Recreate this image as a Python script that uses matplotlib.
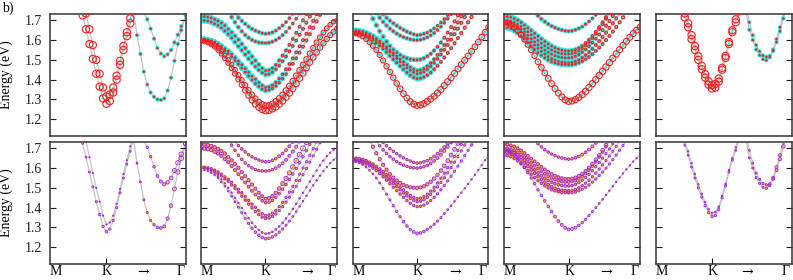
import numpy as np
import matplotlib
matplotlib.use('Agg')
import matplotlib.pyplot as plt

plt.rcParams['font.family'] = ['Liberation Serif', 'DejaVu Serif']

nan = np.nan

# ---------------- k grids (fraction of the M-K-Gamma path) ----------------
K_GRID_A = [0.19, 0.215, 0.24, 0.265, 0.29, 0.315, 0.34, 0.365, 0.39, 0.415, 0.44,
            0.465, 0.49, 0.515, 0.54, 0.565, 0.59, 0.615, 0.64, 0.665, 0.69, 0.715,
            0.74, 0.765, 0.79, 0.815, 0.84, 0.865, 0.89, 0.915, 0.94, 0.965, 1.0]
K_GRID_B = [0.0, 0.025, 0.05, 0.075, 0.1, 0.125, 0.15, 0.175, 0.2, 0.225, 0.25,
            0.275, 0.3, 0.325, 0.35, 0.375, 0.4, 0.425, 0.45, 0.475, 0.5, 0.525,
            0.55, 0.575, 0.6, 0.625, 0.65, 0.675, 0.7, 0.725, 0.75, 0.775, 0.8,
            0.825, 0.85, 0.875, 0.9, 0.925, 0.95, 0.975, 1.0]
K_POS = [0.415, 0.473, 0.477, 0.479, 0.416]
ARROW_POS = [0.686, 0.78, 0.756, 0.748, 0.674]
W_ANCHORS_A = [0.0, 0.415, 0.80, 1.0]
W_ANCHORS_B = [0.0, 0.475, 0.75, 1.0]
X_LABELS = ['M', 'K', '\u2192', '\u0393']
Y_TICKS = [1.2, 1.3, 1.4, 1.5, 1.6, 1.7]

# ---------------- panel 1 ----------------
P1_E = [
    [1.89, 1.80, 1.725, 1.655, 1.58, 1.505, 1.43, 1.365, 1.305, 1.278, 1.292, 1.335, 1.40,
     1.475, 1.55, 1.62, 1.685, 1.75] + [nan] * 15,
    [nan, nan, 1.80, 1.735, 1.655, 1.575, 1.50, 1.43, 1.36, 1.315, 1.325, 1.36, 1.42,
     1.495, 1.57, 1.64, 1.71, 1.78] + [nan] * 15,
    [nan] * 16 + [1.84, 1.74, 1.625, 1.53, 1.44, 1.375, 1.335, 1.313, 1.30, 1.297, 1.305,
                  1.345, 1.41, 1.495, 1.58, 1.65, 1.725],
    [nan] * 19 + [1.80, 1.74, 1.705, 1.658, 1.607, 1.56, 1.532, 1.518, 1.528, 1.55, 1.588,
                  1.627, 1.67, 1.725],
]
P1_RED = [[1, 1, 1, 1], [1, 1, 1, 1], [0, 0, 0, 0], [0, 0, 0, 0]]
P1_CYAN = [[0.1, 0.1, 0.1, 0.1], [0.1, 0.1, 0.1, 0.1], [0.6, 0.6, 0.6, 0.65], [0.6, 0.6, 0.6, 0.65]]
P1_PURPLE = [[0.0, 0.3, 0.0, 0.0], [0.0, 0.05, 0.0, 0.0], [0, 0, 0.3, 0.8], [0, 0, 0.35, 0.8]]
P1_ORANGE = [[0.15, 0.05, 0.15, 0.15], [0.15, 0.1, 0.15, 0.15], [0.4, 0.35, 0.2, 0.15], [0.4, 0.35, 0.2, 0.15]]

# ---------------- panel 2 ----------------
P2_E = [
    [nan] * 8 + [1.80, 1.765, 1.737, 1.714, 1.697, 1.682, 1.668, 1.657, 1.648, 1.641, 1.635,
                 1.632, 1.634, 1.639, 1.648, 1.66, 1.674, 1.691, 1.711, 1.733, 1.758, 1.79] + [nan] * 11,
    [nan] * 6 + [1.815, 1.78, 1.745, 1.716, 1.69, 1.665, 1.644, 1.626, 1.612, 1.601, 1.593,
                 1.588, 1.586, 1.585, 1.587, 1.592, 1.60, 1.611, 1.625, 1.642, 1.662, 1.684,
                 1.708, 1.735, 1.765] + [nan] * 10,
    [1.72, 1.719, 1.716, 1.712, 1.705, 1.697, 1.687, 1.674, 1.655, 1.639, 1.621, 1.602, 1.58,
     1.559, 1.538, 1.517, 1.496, 1.476, 1.458, 1.445, 1.448, 1.458, 1.475, 1.497, 1.522, 1.548,
     1.576, 1.606, 1.637, 1.668, 1.70, 1.732, 1.765] + [nan] * 8,
    [1.70, 1.699, 1.696, 1.691, 1.683, 1.674, 1.662, 1.646, 1.63, 1.611, 1.59, 1.569, 1.549,
     1.527, 1.506, 1.485, 1.466, 1.449, 1.435, 1.425, 1.428, 1.437, 1.452, 1.471, 1.493, 1.517,
     1.543, 1.57, 1.598, 1.627, 1.657, 1.688, 1.72, 1.752] + [nan] * 7,
    [1.606, 1.605, 1.602, 1.597, 1.59, 1.581, 1.57, 1.556, 1.544, 1.528, 1.511, 1.493, 1.475,
     1.456, 1.437, 1.418, 1.402, 1.385, 1.37, 1.36, 1.363, 1.372, 1.386, 1.405, 1.427, 1.452,
     1.479, 1.508, 1.538, 1.569, 1.60, 1.632, 1.665, 1.698, 1.732, 1.766] + [nan] * 5,
    [1.602, 1.601, 1.597, 1.591, 1.583, 1.572, 1.56, 1.545, 1.533, 1.515, 1.497, 1.478, 1.458,
     1.438, 1.418, 1.399, 1.38, 1.365, 1.352, 1.345, 1.348, 1.356, 1.368, 1.385, 1.405, 1.428,
     1.453, 1.48, 1.508, 1.537, 1.567, 1.598, 1.63, 1.662, 1.695, 1.728, 1.762] + [nan] * 4,
    [1.60, 1.598, 1.593, 1.585, 1.575, 1.56, 1.543, 1.523, 1.50, 1.476, 1.45, 1.424, 1.398,
     1.372, 1.347, 1.324, 1.304, 1.287, 1.275, 1.268, 1.27, 1.277, 1.29, 1.305, 1.323, 1.345,
     1.368, 1.393, 1.42, 1.447, 1.475, 1.503, 1.532, 1.56, 1.588, 1.614, 1.638, 1.66, 1.678,
     1.693, 1.70],
    [1.592, 1.59, 1.585, 1.576, 1.565, 1.549, 1.53, 1.508, 1.484, 1.458, 1.43, 1.402, 1.374,
     1.346, 1.32, 1.296, 1.276, 1.26, 1.249, 1.243, 1.245, 1.252, 1.262, 1.276, 1.292, 1.311,
     1.332, 1.355, 1.38, 1.406, 1.433, 1.46, 1.487, 1.513, 1.538, 1.562, 1.585, 1.606, 1.625,
     1.642, 1.658],
]
P2_RED = [[0.05, 0.05, 0.15, 0.25], [0.05, 0.05, 0.15, 0.25], [0.05, 0.05, 0.25, 0.35],
          [0.05, 0.05, 0.25, 0.35], [0.05, 0.05, 0.25, 0.35], [0.05, 0.05, 0.25, 0.35],
          [0.35, 0.75, 0.7, 0.5], [0.35, 0.85, 0.8, 0.6]]
P2_CYAN = [[0.8, 0.7, 0.5, 0.45], [0.8, 0.7, 0.5, 0.45], [0.95, 0.8, 0.5, 0.45],
           [0.95, 0.8, 0.5, 0.45], [0.95, 0.85, 0.5, 0.45], [0.95, 0.85, 0.5, 0.45],
           [0.3, 0.15, 0.3, 0.35], [0.3, 0.15, 0.3, 0.35]]
P2_PURPLE = [[0.25, 0.3, 0.45, 0.45], [0.25, 0.3, 0.45, 0.45], [0.5, 0.4, 0.8, 0.85],
             [0.5, 0.3, 0.3, 0.3], [0.15, 0.25, 0.25, 0.25], [0.15, 0.25, 0.25, 0.25],
             [0.0, 0.15, 0.1, 0.05], [0.0, 0.35, 0.1, 0.05]]
P2_ORANGE = [[0.55, 0.4, 0.2, 0.15], [0.55, 0.4, 0.2, 0.15], [0.65, 0.5, 0.2, 0.15],
             [0.65, 0.5, 0.2, 0.15], [0.55, 0.5, 0.2, 0.15], [0.55, 0.5, 0.2, 0.15],
             [0.2, 0.15, 0.15, 0.15], [0.2, 0.15, 0.15, 0.15]]

# ---------------- panel 3 ----------------
P3_E = [
    [nan] * 7 + [1.77, 1.75, 1.731, 1.713, 1.698, 1.685, 1.673, 1.662, 1.652, 1.643, 1.636,
                 1.629, 1.625, 1.627, 1.632, 1.638, 1.647, 1.659, 1.673, 1.689, 1.706, 1.726,
                 1.748, 1.772] + [nan] * 10,
    [nan] * 5 + [1.80, 1.765, 1.738, 1.713, 1.692, 1.674, 1.658, 1.645, 1.633, 1.623, 1.615,
                 1.609, 1.604, 1.601, 1.60, 1.602, 1.607, 1.614, 1.624, 1.636, 1.651, 1.668,
                 1.687, 1.708, 1.731, 1.756] + [nan] * 10,
    [nan] * 3 + [1.83, 1.785, 1.745, 1.708, 1.675, 1.645, 1.617, 1.592, 1.57, 1.552, 1.537,
                 1.525, 1.515, 1.508, 1.503, 1.501, 1.50, 1.502, 1.508, 1.518, 1.531, 1.547,
                 1.566, 1.588, 1.612, 1.638, 1.666, 1.695, 1.725, 1.757] + [nan] * 8,
    [1.65, 1.649, 1.647, 1.643, 1.637, 1.629, 1.62, 1.608, 1.595, 1.581, 1.566, 1.55, 1.535,
     1.519, 1.504, 1.489, 1.475, 1.462, 1.452, 1.445, 1.448, 1.456, 1.468, 1.484, 1.503, 1.525,
     1.549, 1.575, 1.602, 1.63, 1.659, 1.689, 1.72, 1.751] + [nan] * 7,
    [1.642, 1.641, 1.639, 1.635, 1.629, 1.621, 1.611, 1.599, 1.585, 1.57, 1.555, 1.54, 1.523,
     1.507, 1.491, 1.475, 1.46, 1.447, 1.437, 1.43, 1.433, 1.44, 1.452, 1.467, 1.485, 1.505,
     1.527, 1.551, 1.576, 1.602, 1.63, 1.658, 1.687, 1.717, 1.748] + [nan] * 6,
    [1.635, 1.634, 1.631, 1.627, 1.62, 1.611, 1.60, 1.587, 1.572, 1.556, 1.539, 1.521, 1.503,
     1.486, 1.469, 1.452, 1.436, 1.422, 1.411, 1.405, 1.407, 1.413, 1.423, 1.436, 1.452, 1.47,
     1.49, 1.512, 1.535, 1.559, 1.584, 1.61, 1.636, 1.663, 1.69, 1.717, 1.745] + [nan] * 4,
    [1.635, 1.633, 1.627, 1.618, 1.605, 1.589, 1.571, 1.55, 1.525, 1.497, 1.468, 1.439, 1.41,
     1.381, 1.354, 1.329, 1.307, 1.289, 1.277, 1.27, 1.272, 1.279, 1.29, 1.302, 1.316, 1.332,
     1.35, 1.37, 1.39, 1.41, 1.432, 1.454, 1.476, 1.498, 1.52, 1.543, 1.566, 1.59, 1.615,
     1.64, 1.665],
]
P3_RED = [[0.05, 0.05, 0.15, 0.25], [0.05, 0.05, 0.15, 0.25], [0.05, 0.05, 0.25, 0.35],
          [0.05, 0.05, 0.25, 0.35], [0.05, 0.05, 0.25, 0.35], [0.15, 0.05, 0.25, 0.35],
          [0.5, 0.8, 0.8, 0.7]]
P3_CYAN = [[0.8, 0.7, 0.5, 0.45], [0.8, 0.7, 0.5, 0.45], [0.9, 0.8, 0.5, 0.45],
           [0.95, 0.85, 0.5, 0.45], [0.95, 0.85, 0.5, 0.45], [0.9, 0.85, 0.5, 0.45],
           [0.4, 0.2, 0.3, 0.35]]
P3_PURPLE = [[0.25, 0.3, 0.45, 0.45], [0.25, 0.3, 0.45, 0.45], [0.45, 0.45, 0.55, 0.55],
             [0.35, 0.25, 0.25, 0.25], [0.35, 0.25, 0.25, 0.25], [0.25, 0.25, 0.25, 0.25],
             [0.05, 0.35, 0.1, 0.05]]
P3_ORANGE = [[0.55, 0.4, 0.2, 0.15], [0.55, 0.4, 0.2, 0.15], [0.6, 0.45, 0.2, 0.15],
             [0.65, 0.5, 0.2, 0.15], [0.65, 0.5, 0.2, 0.15], [0.55, 0.45, 0.2, 0.15],
             [0.25, 0.15, 0.15, 0.15]]

# ---------------- panel 4 ----------------
P4_E = [
    [nan] * 7 + [1.80, 1.765, 1.742, 1.723, 1.707, 1.693, 1.681, 1.671, 1.663, 1.656, 1.651,
                 1.647, 1.645, 1.647, 1.652, 1.659, 1.668, 1.68, 1.694, 1.71, 1.728, 1.748,
                 1.77] + [nan] * 11,
    [1.72, 1.719, 1.715, 1.709, 1.70, 1.689, 1.676, 1.662, 1.648, 1.634, 1.62, 1.606, 1.593,
     1.581, 1.57, 1.561, 1.554, 1.549, 1.546, 1.545, 1.547, 1.552, 1.56, 1.571, 1.585, 1.602,
     1.621, 1.642, 1.665, 1.69, 1.716, 1.743] + [nan] * 9,
    [1.70, 1.699, 1.695, 1.689, 1.68, 1.669, 1.656, 1.642, 1.627, 1.612, 1.598, 1.584, 1.571,
     1.56, 1.55, 1.542, 1.536, 1.532, 1.53, 1.53, 1.532, 1.537, 1.546, 1.558, 1.573, 1.59,
     1.61, 1.632, 1.656, 1.681, 1.708, 1.736, 1.765] + [nan] * 8,
    [1.69, 1.689, 1.685, 1.678, 1.668, 1.655, 1.64, 1.624, 1.607, 1.591, 1.576, 1.562, 1.549,
     1.538, 1.529, 1.521, 1.516, 1.512, 1.51, 1.51, 1.512, 1.518, 1.527, 1.539, 1.553, 1.569,
     1.587, 1.607, 1.628, 1.65, 1.673, 1.697, 1.722, 1.748] + [nan] * 7,
    [1.68, 1.679, 1.674, 1.666, 1.655, 1.641, 1.625, 1.608, 1.591, 1.574, 1.558, 1.543, 1.529,
     1.517, 1.506, 1.498, 1.492, 1.488, 1.486, 1.485, 1.487, 1.492, 1.50, 1.511, 1.524, 1.539,
     1.556, 1.575, 1.595, 1.616, 1.638, 1.661, 1.685, 1.71, 1.736, 1.762] + [nan] * 5,
    [1.665, 1.663, 1.658, 1.649, 1.637, 1.622, 1.605, 1.587, 1.569, 1.552, 1.537, 1.523, 1.511,
     1.50, 1.491, 1.485, 1.48, 1.477, 1.476, 1.475, 1.476, 1.479, 1.485, 1.493, 1.503, 1.515,
     1.529, 1.545, 1.562, 1.58, 1.60, 1.621, 1.643, 1.666, 1.69, 1.715, 1.741] + [nan] * 4,
    [1.69, 1.687, 1.678, 1.665, 1.648, 1.627, 1.603, 1.577, 1.55, 1.521, 1.49, 1.462, 1.434,
     1.406, 1.38, 1.355, 1.332, 1.313, 1.298, 1.29, 1.292, 1.299, 1.31, 1.324, 1.341, 1.36,
     1.38, 1.40, 1.421, 1.442, 1.464, 1.486, 1.508, 1.53, 1.552, 1.573, 1.594, 1.614, 1.633,
     1.65, 1.665],
]
P4_RED = [[0.05, 0.05, 0.15, 0.25], [0.05, 0.05, 0.25, 0.35], [0.05, 0.05, 0.25, 0.35],
          [0.05, 0.05, 0.25, 0.35], [0.05, 0.05, 0.25, 0.35], [0.05, 0.05, 0.25, 0.35],
          [0.6, 0.8, 0.85, 0.75]]
P4_CYAN = [[0.8, 0.7, 0.5, 0.45], [0.95, 0.85, 0.5, 0.45], [0.95, 0.85, 0.5, 0.45],
           [0.95, 0.85, 0.5, 0.45], [0.95, 0.85, 0.5, 0.45], [0.95, 0.85, 0.5, 0.45],
           [0.2, 0.2, 0.3, 0.35]]
P4_PURPLE = [[0.25, 0.3, 0.45, 0.45], [0.35, 0.4, 0.55, 0.55], [0.35, 0.35, 0.3, 0.3],
             [0.35, 0.3, 0.25, 0.25], [0.35, 0.3, 0.25, 0.25], [0.25, 0.25, 0.25, 0.25],
             [0.2, 0.4, 0.1, 0.05]]
P4_ORANGE = [[0.55, 0.4, 0.2, 0.15], [0.65, 0.5, 0.2, 0.15], [0.65, 0.5, 0.2, 0.15],
             [0.65, 0.5, 0.2, 0.15], [0.65, 0.5, 0.2, 0.15], [0.65, 0.5, 0.2, 0.15],
             [0.35, 0.15, 0.15, 0.15]]

# ---------------- panel 5 ----------------
P5_E = [
    [1.76, 1.715, 1.665, 1.605, 1.55, 1.50, 1.453, 1.41, 1.375, 1.355, 1.36, 1.39, 1.45, 1.51,
     1.58, 1.64, 1.69, 1.745] + [nan] * 15,
    [1.79, 1.735, 1.685, 1.625, 1.57, 1.518, 1.47, 1.428, 1.392, 1.372, 1.378, 1.405, 1.46,
     1.52, 1.59, 1.65, 1.705, 1.76] + [nan] * 15,
    [nan] * 18 + [1.84, 1.745, 1.652, 1.60, 1.552, 1.523, 1.503, 1.498, 1.513, 1.552, 1.605,
                  1.665, 1.735, 1.80, nan],
    [nan] * 19 + [1.79, 1.69, 1.625, 1.575, 1.543, 1.522, 1.515, 1.52, 1.545, 1.59, 1.645,
                  1.71, 1.78, nan],
]
P5_RED = [[1, 1, 1, 1], [1, 1, 1, 1], [0, 0, 0, 0], [0, 0, 0, 0]]
P5_CYAN = [[0.1, 0.1, 0.1, 0.1], [0.1, 0.1, 0.1, 0.1], [0.6, 0.6, 0.6, 0.65], [0.6, 0.6, 0.6, 0.65]]
P5_PURPLE = [[0.0, 0.3, 0.0, 0.0], [0.0, 0.15, 0.0, 0.0], [0, 0, 0.25, 0.6], [0, 0, 0.25, 0.6]]
P5_ORANGE = [[0.15, 0.1, 0.15, 0.15], [0.15, 0.1, 0.15, 0.15], [0.45, 0.4, 0.25, 0.15], [0.45, 0.4, 0.25, 0.15]]

PANELS = [
    (K_GRID_A, W_ANCHORS_A, P1_E, P1_RED, P1_CYAN, P1_PURPLE, P1_ORANGE),
    (K_GRID_B, W_ANCHORS_B, P2_E, P2_RED, P2_CYAN, P2_PURPLE, P2_ORANGE),
    (K_GRID_B, W_ANCHORS_B, P3_E, P3_RED, P3_CYAN, P3_PURPLE, P3_ORANGE),
    (K_GRID_B, W_ANCHORS_B, P4_E, P4_RED, P4_CYAN, P4_PURPLE, P4_ORANGE),
    (K_GRID_A, W_ANCHORS_A, P5_E, P5_RED, P5_CYAN, P5_PURPLE, P5_ORANGE),
]

RED = '#ff1a1a'
CYAN = '#1fe6e6'
PURPLE = '#9a22e6'
ORANGE = '#ffa31a'
LINE = '#c4c4c4'

W, H = 793, 280
fig = plt.figure(figsize=(W / 100, H / 100), dpi=100)

lefts = [50, 201, 352.5, 504, 655.5]
pw = 136
rows = [(14, 136), (142, 264)]
YLIM = (1.115, 1.732)


def size(w, scale):
    d = (0.9 + 4.3 * np.asarray(w)) * scale
    return d ** 2


for r, (top, bot) in enumerate(rows):
    for c in range(5):
        kgrid, anchors, bands, wr, wc, wp, wo = PANELS[c]
        ax = fig.add_axes([lefts[c] / W, 1 - bot / H, pw / W, (bot - top) / H])
        k = np.array(kgrid)
        for b, E in enumerate(bands):
            E = np.array(E, dtype=float)
            ax.plot(k, E, color=LINE, lw=0.9, zorder=1)
            if r == 0:
                fill_w, ring_w = np.interp(k, anchors, wc[b]), np.interp(k, anchors, wr[b])
                fill_c, ring_c, sc, fa, rlw = CYAN, RED, 1.0, 0.75, 0.8
            else:
                fill_w, ring_w = np.interp(k, anchors, wo[b]), np.interp(k, anchors, wp[b])
                fill_c, ring_c, sc, fa, rlw = ORANGE, PURPLE, 0.82, 1.0, 0.6
            ax.scatter(k, E, s=size(fill_w, sc) * fa, color=fill_c, linewidths=0, zorder=2)
            ax.scatter(k, E, s=size(ring_w, sc), facecolors='none', edgecolors=ring_c,
                       linewidths=rlw, zorder=3)
        ax.set_xlim(0, 1)
        ax.set_ylim(*YLIM)
        ax.set_yticks(Y_TICKS)
        ax.tick_params(axis='y', direction='in', left=True, right=True, length=4,
                       width=0.8, labelsize=10, pad=6, colors='#222222')
        ax.set_xticks([K_POS[c]])
        ax.tick_params(axis='x', direction='in', bottom=(r == 1), top=False, length=4,
                       width=0.8, labelbottom=False)
        if c == 0:
            ax.set_yticklabels([f'{v:.1f}' for v in Y_TICKS])
            ax.set_ylabel('Energy (eV)', fontsize=10)
            ax.yaxis.set_label_coords(-0.275, 0.5)
        else:
            ax.set_yticklabels([])
        for sp in ax.spines.values():
            sp.set_linewidth(1.1)
            sp.set_color('#333333')
        if r == 1:
            xs = [0.045, K_POS[c], ARROW_POS[c], 0.96]
            for x, lab in zip(xs, X_LABELS):
                fam = ['DejaVu Serif'] if lab == '\u2192' else ['Liberation Serif', 'DejaVu Serif']
                ax.text(x, -0.062, lab, transform=ax.transAxes, ha='center', va='center',
                        fontsize=10, family=fam)

fig.text(0.003, 0.972, 'b)', fontsize=10, va='center', ha='left')
fig.savefig('out.png', dpi=100)
